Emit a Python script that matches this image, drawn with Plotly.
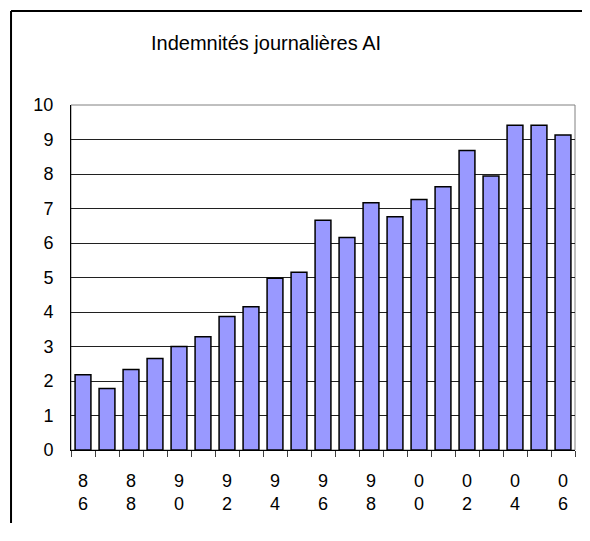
"""Indemnités journalières AI, bar chart 1986-2006."""
import plotly.graph_objects as go

YEARS: list[int] = list(range(1986, 2007))
"""Years shown on the x axis."""

VALUES: list[float] = [
    2.18, 1.78, 2.33, 2.65, 3.0, 3.28, 3.87, 4.15, 4.98, 5.15, 6.66,
    6.16, 7.17, 6.76, 7.26, 7.63, 8.68, 7.94, 9.41, 9.41, 9.13
]
"""Bar heights read from the picture."""

LABEL_YEARS: list[int] = YEARS[::2]
TICK_TEXT: list[str] = [f"{y % 100:02d}"[0] + "<br>" + f"{y % 100:02d}"[1] for y in LABEL_YEARS]
BOUNDARIES: list[float] = [y - 0.5 for y in YEARS] + [YEARS[-1] + 0.5]

FONT = "Arial, Liberation Sans, sans-serif"

# The page body adds an 8px margin; the figure is kept a little smaller
# than the window so the page does not overflow (no scrollbars).
fig = go.Figure(go.Bar(
    x=YEARS,
    y=VALUES,
    width=0.66,
    marker={"color": "#9999FF", "line": {"color": "black", "width": 1.5}},
    showlegend=False
))

fig.update_layout(
    width=574,
    height=515,
    margin={"l": 63, "r": 7, "t": 97, "b": 73},
    paper_bgcolor="white",
    plot_bgcolor="white",
    font={"family": FONT, "color": "black", "size": 18},
    title={
        "text": "Indemnités journalières AI",
        "font": {"family": FONT, "size": 20, "color": "black"},
        "xref": "paper", "x": 0.387, "xanchor": "center",
        "yref": "container", "y": 1 - 35 / 515, "yanchor": "middle"
    },
    shapes=[
        # outer frame of the chart (only top and left edges are in view)
        {"type": "line", "xref": "paper", "yref": "paper",
         "x0": -0.119, "x1": 1.1, "y0": 1.2725, "y1": 1.2725,
         "line": {"color": "black", "width": 2}, "layer": "below"},
        {"type": "line", "xref": "paper", "yref": "paper",
         "x0": -0.119, "x1": -0.119, "y0": -0.4, "y1": 1.2725,
         "line": {"color": "black", "width": 2}, "layer": "below"},
        # plot area border
        {"type": "rect", "xref": "paper", "yref": "paper",
         "x0": 0, "x1": 1, "y0": 0, "y1": 1,
         "line": {"color": "#808080", "width": 1}, "layer": "below"},
    ]
)

fig.update_xaxes(
    range=[YEARS[0] - 0.5, YEARS[-1] + 0.5],
    tickvals=LABEL_YEARS,
    ticktext=TICK_TEXT,
    ticks="",
    ticklabelstandoff=14,
    tickfont={"size": 18},
    showgrid=False,
    zeroline=False,
    showline=True,
    linecolor="black",
    linewidth=1,
    minor={"tickvals": BOUNDARIES, "ticks": "outside", "ticklen": 6,
           "tickcolor": "#404040", "showgrid": False},
)

fig.update_yaxes(
    range=[0, 10],
    dtick=1,
    ticks="",
    ticklabelstandoff=13,
    tickfont={"size": 18},
    showgrid=True,
    gridcolor="#202020",
    gridwidth=1,
    zeroline=False,
    showline=True,
    linecolor="black",
    linewidth=1,
)

fig.write_html("out.html")
